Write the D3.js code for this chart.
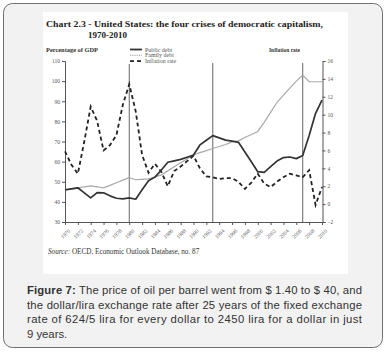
<!DOCTYPE html>
<html>
<head>
  <meta charset="utf-8">
  <title>Chart 2.3</title>
  <script src="https://d3js.org/d3.v7.min.js"></script>
  <style>
    body { margin: 0; background: #fff; }
    svg text { font-family: "Liberation Serif", "DejaVu Serif", serif; }
  </style>
</head>
<body>
  <svg width="387" height="352"></svg>

  <script>
    const years = [1970, 1971, 1972, 1973, 1974, 1975, 1976, 1977, 1978, 1979,
                   1980, 1981, 1982, 1983, 1984, 1985, 1986, 1987, 1988, 1989,
                   1990, 1991, 1992, 1993, 1994, 1995, 1996, 1997, 1998, 1999,
                   2000, 2001, 2002, 2003, 2004, 2005, 2006, 2007, 2008, 2009, 2010];

    // percentage of GDP (left axis)
    const publicDebt = [46, 46.5, 47, 44.5, 42, 44.6, 44.5, 43, 41.8, 41.5,
                        42, 41.3, 46, 50.5, 52.3, 55.8, 59.7, 60.4, 61.1, 62.2,
                        63.3, 68.3, 70.6, 72.9, 71.8, 70.7, 70.2, 69.6, 64.8, 59.9,
                        55, 54.7, 57.5, 60.3, 62, 62.3, 61.5, 63, 73, 84, 90.6];
    const familyDebt = [46, 46.5, 47, 47.5, 47.9, 47.5, 47, 48.2, 49.5, 50.8,
                        52, 51, 51.2, 51.4, 52.4, 53.4, 55.4, 57.4, 59.4, 61.4,
                        63.3, 64.5, 65.5, 66.5, 67.5, 68.5, 69.8, 70.3, 72, 73.5,
                        75, 79.5, 84.5, 89.5, 93, 96.5, 100, 103, 99.7, 99.7, 99.7];
    // inflation rate (right axis)
    const inflation = [5.9, 4.4, 3.4, 7.0, 10.9, 9.3, 6.0, 6.6, 7.7, 11.1,
                       13.4, 10.4, 5.5, 3.5, 4.5, 3.6, 2.0, 3.7, 4.2, 4.8,
                       5.4, 4.0, 3.1, 3.0, 2.8, 2.9, 2.9, 2.5, 1.7, 2.4,
                       3.4, 2.3, 1.9, 2.5, 3.0, 3.4, 3.2, 3.0, 3.8, -0.1, 1.9];

    const xTicks = [1970, 1972, 1974, 1976, 1978, 1980, 1982, 1984, 1986, 1988, 1990,
                    1992, 1994, 1996, 1998, 2000, 2002, 2004, 2006, 2008, 2010];
    const leftTicks = [30, 40, 50, 60, 70, 80, 90, 100, 110];
    const rightTicks = [-2, 0, 2, 4, 6, 8, 10, 12, 14, 16];
    const markerYears = [1980, 1993, 2007];

    const legendData = [
      { name: "Public debt", stroke: "#333", width: 1.8, dash: null },
      { name: "Family debt", stroke: "#999", width: 1.1, dash: "1,0.8" },
      { name: "Inflation rate", stroke: "#222", width: 1.8, dash: "4,3" }
    ];

    const captionLines = [
      "The price of oil per barrel went from $ 1.40 to $ 40, and",
      "the dollar/lira exchange rate after 25 years of the fixed exchange",
      "rate of 624/5 lira for every dollar to 2450 lira for a dollar in just",
      "9 years."
    ];

    const svg = d3.select("svg");

    // outer panel
    svg.append("rect")
      .attr("x", 3.5).attr("y", 3.5)
      .attr("width", 379).attr("height", 344)
      .attr("rx", 9)
      .attr("fill", "#f2f2f2")
      .attr("stroke", "#6f6f6f")
      .attr("stroke-width", 1);

    // white picture area
    svg.append("rect")
      .attr("x", 43).attr("y", 12)
      .attr("width", 305).attr("height", 262)
      .attr("fill", "#fff");

    // scales
    const x = d3.scaleLinear().domain([1970, 2010]).range([65, 322]);
    const yL = d3.scaleLinear().domain([30, 110]).range([222, 61]);
    const yR = d3.scaleLinear().domain([-2, 16]).range([222, 61]);

    // title
    svg.append("text")
      .attr("x", 46).attr("y", 27)
      .attr("textLength", 277)
      .attr("lengthAdjust", "spacingAndGlyphs")
      .style("font-size", "9px")
      .style("font-weight", "bold")
      .style("fill", "#222")
      .text("Chart 2.3 - United States: the four crises of democratic capitalism,");
    svg.append("text")
      .attr("x", 88).attr("y", 38)
      .style("font-size", "9px")
      .style("font-weight", "bold")
      .style("fill", "#222")
      .text("1970-2010");

    svg.append("text")
      .attr("x", 46).attr("y", 52)
      .attr("textLength", 52)
      .attr("lengthAdjust", "spacingAndGlyphs")
      .style("font-size", "6.5px")
      .style("font-weight", "bold")
      .style("fill", "#333")
      .text("Percentage of GDP");
    svg.append("text")
      .attr("x", 269).attr("y", 52)
      .attr("textLength", 31)
      .attr("lengthAdjust", "spacingAndGlyphs")
      .style("font-size", "6.5px")
      .style("font-weight", "bold")
      .style("fill", "#333")
      .text("Inflation rate");

    // axes
    const axisStyle = g => {
      g.select(".domain").attr("stroke", "#555").attr("stroke-width", 1);
      g.selectAll(".tick line").attr("stroke", "#555");
      g.selectAll(".tick text")
        .style("font-size", "5.5px")
        .style("fill", "#555")
        .style("font-family", "'Liberation Serif', serif");
    };

    svg.append("g")
      .attr("transform", "translate(65,0)")
      .call(d3.axisLeft(yL).tickValues(leftTicks).tickSize(3).tickSizeOuter(3).tickPadding(2))
      .call(axisStyle);

    svg.append("g")
      .attr("transform", "translate(322.5,0)")
      .call(d3.axisRight(yR).tickValues(rightTicks).tickSize(3).tickSizeOuter(3).tickPadding(2))
      .call(axisStyle);

    const xAxis = svg.append("g")
      .attr("transform", "translate(0,222)")
      .call(d3.axisBottom(x).tickValues(xTicks).tickFormat(d3.format("d")).tickSize(3).tickSizeOuter(0))
      .call(axisStyle);
    xAxis.selectAll(".tick text")
      .attr("text-anchor", "end")
      .attr("dx", "0")
      .attr("dy", "0")
      .attr("transform", "translate(1,5) rotate(-45)");

    // marker lines
    svg.selectAll(".marker")
      .data(markerYears)
      .enter()
      .append("line")
      .attr("class", "marker")
      .attr("x1", d => x(d)).attr("x2", d => x(d))
      .attr("y1", yL(110) + 2).attr("y2", yL(30))
      .attr("stroke", "#666")
      .attr("stroke-width", 1);

    // series
    const lineL = d3.line().x((d, i) => x(years[i])).y(d => yL(d));
    const lineR = d3.line().x((d, i) => x(years[i])).y(d => yR(d));

    svg.append("path")
      .datum(familyDebt)
      .attr("d", lineL)
      .attr("fill", "none")
      .attr("stroke", "#a8a8a8")
      .attr("stroke-width", 1.2);

    svg.append("path")
      .datum(inflation)
      .attr("d", lineR)
      .attr("fill", "none")
      .attr("stroke", "#222")
      .attr("stroke-width", 1.8)
      .attr("stroke-dasharray", "4,3");

    svg.append("path")
      .datum(publicDebt)
      .attr("d", lineL)
      .attr("fill", "none")
      .attr("stroke", "#333")
      .attr("stroke-width", 1.7)
      .attr("stroke-linejoin", "round");

    // legend
    const legend = svg.append("g");
    legend.append("rect")
      .attr("x", 128).attr("y", 44)
      .attr("width", 55).attr("height", 20)
      .attr("fill", "#fff");
    legendData.forEach((d, i) => {
      const ly = 49.5 + i * 5.8;
      legend.append("line")
        .attr("x1", 130).attr("x2", 142)
        .attr("y1", ly).attr("y2", ly)
        .attr("stroke", d.stroke)
        .attr("stroke-width", d.width)
        .attr("stroke-dasharray", d.dash);
      legend.append("text")
        .attr("x", 145).attr("y", ly + 2)
        .style("font-size", "6px")
        .style("fill", "#555")
        .text(d.name);
    });

    // source
    const src = svg.append("text")
      .attr("x", 48).attr("y", 253.5)
      .style("font-size", "7.2px")
      .style("fill", "#333");
    src.append("tspan").style("font-style", "italic").text("Source:");
    src.append("tspan").text(" OECD, Economic Outlook Database, no. 87");

    // caption
    const cap = svg.append("g")
      .style("font-family", "'Liberation Sans', Arial, sans-serif")
      .style("font-size", "11.3px")
      .style("fill", "#333");
    captionLines.forEach((t, i) => {
      const tx = cap.append("text")
        .attr("x", 27).attr("y", 294 + i * 14.5)
        .style("font-family", "'Liberation Sans', Arial, sans-serif");
      if (i < 3) tx.attr("textLength", 335).attr("lengthAdjust", "spacing");
      if (i === 0) {
        tx.append("tspan").style("font-weight", "bold").text("Figure 7:");
        tx.append("tspan").text(" " + t);
      } else {
        tx.text(t);
      }
    });
  </script>
</body>
</html>
